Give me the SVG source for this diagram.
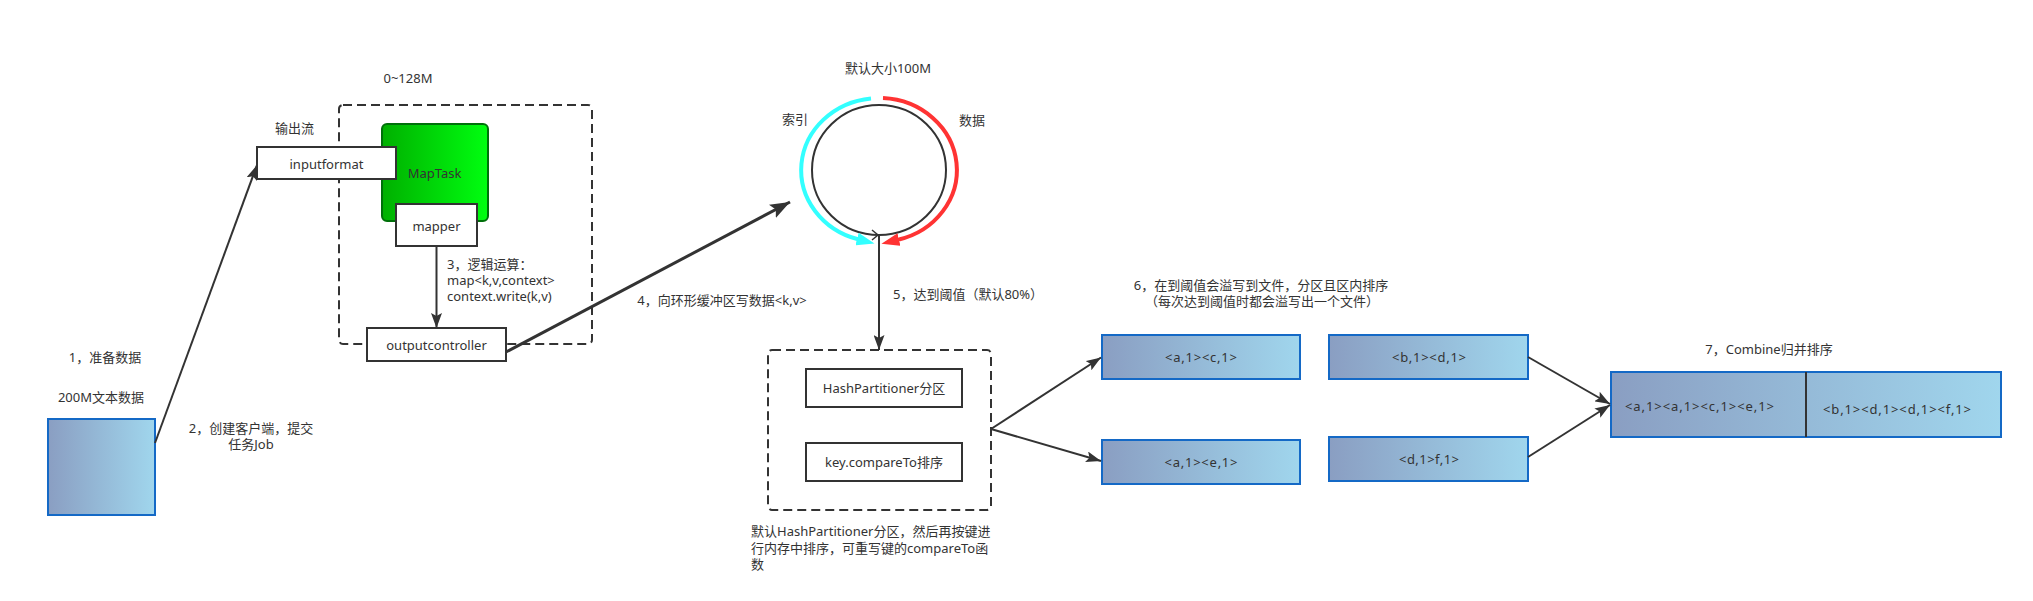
<svg xmlns="http://www.w3.org/2000/svg" width="2033" height="601" viewBox="0 0 2033 601">
<style>
text{font-family:"Noto Sans","Noto Sans CJK SC",sans-serif;font-size:13px;fill:#333;dominant-baseline:central}
.c{text-anchor:middle}
.box{fill:#fff;stroke:#333;stroke-width:2}
.dash{fill:none;stroke:#333;stroke-width:2;stroke-dasharray:9 5}
.blue{fill:url(#gb);stroke:#1469c6;stroke-width:2}
.ln{fill:none;stroke:#333;stroke-width:2}
</style>
<defs>
<linearGradient id="gb" x1="0" y1="0" x2="1" y2="0"><stop offset="0" stop-color="#8a9ec2"/><stop offset="1" stop-color="#a0d6ed"/></linearGradient>
<linearGradient id="gg" x1="0" y1="0" x2="1" y2="0"><stop offset="0" stop-color="#00b000"/><stop offset="1" stop-color="#00ff10"/></linearGradient>
<marker id="ar" markerWidth="16" markerHeight="11" refX="15" refY="5.5" orient="auto" markerUnits="userSpaceOnUse"><path d="M0,0 L15,5.5 L0,11 L3,5.5 z" fill="#333"/></marker>
<marker id="arb" markerWidth="21" markerHeight="15" refX="20" refY="7.5" orient="auto" markerUnits="userSpaceOnUse"><path d="M0,0 L20,7.5 L0,15 L4,7.5 z" fill="#333"/></marker>
<marker id="arc" markerWidth="19" markerHeight="13" refX="1" refY="6.5" orient="auto" markerUnits="userSpaceOnUse"><path d="M0,0 L18,6.5 L0,13 z" fill="#33ffff"/></marker>
<marker id="arr" markerWidth="19" markerHeight="13" refX="1" refY="6.5" orient="auto" markerUnits="userSpaceOnUse"><path d="M0,0 L18,6.5 L0,13 z" fill="#ff3333"/></marker>
</defs>
<rect width="2033" height="601" fill="#fff"/>

<g id="labels">
<text class="c" x="105" y="357">1，准备数据</text>
<text class="c" x="101" y="397">200M文本数据</text>
<text class="c" x="251" y="428">2，创建客户端，提交</text>
<text class="c" x="251" y="443.5">任务Job</text>
<text class="c" x="294.5" y="128">输出流</text>
<text class="c" x="408" y="78">0~128M</text>
<text x="447" y="264">3，逻辑运算：</text>
<text x="447" y="280">map&lt;k,v,context&gt;</text>
<text x="447" y="296">context.write(k,v)</text>
<text class="c" x="722" y="299.5">4，向环形缓冲区写数据&lt;k,v&gt;</text>
<text class="c" x="888" y="67.5">默认大小100M</text>
<text class="c" x="795" y="119">索引</text>
<text class="c" x="972" y="120">数据</text>
<text x="893" y="293.5">5，达到阈值（默认80%）</text>
<text x="751" y="531">默认HashPartitioner分区，然后再按键进</text>
<text x="751" y="547.5">行内存中排序，可重写键的compareTo函</text>
<text x="751" y="563.5">数</text>
<text class="c" x="1261" y="285">6，在到阈值会溢写到文件，分区且区内排序</text>
<text class="c" x="1262" y="301">（每次达到阈值时都会溢写出一个文件）</text>
<text class="c" x="1769" y="348.5">7，Combine归并排序</text>
</g>

<g id="data-file">
<rect class="blue" x="48" y="419" width="107" height="96"/>
</g>

<g id="map-container">
<rect class="dash" x="339" y="105" width="253" height="239" rx="4"/>
</g>

<g id="maptask">
<rect x="382" y="124" width="106" height="97" rx="5" fill="url(#gg)" stroke="#00700a" stroke-width="2"/>
<text class="c" x="434.5" y="173">MapTask</text>
</g>

<g id="inputformat">
<rect class="box" x="257" y="147" width="139" height="32"/>
<text class="c" x="326.5" y="163.5">inputformat</text>
</g>

<g id="mapper">
<rect class="box" x="396" y="204" width="81" height="42"/>
<text class="c" x="436.5" y="225.5">mapper</text>
</g>

<g id="outputcontroller">
<rect class="box" x="367" y="328" width="139" height="33"/>
<text class="c" x="436.5" y="345">outputcontroller</text>
</g>

<g id="ring-buffer">
<ellipse cx="879" cy="170" rx="67" ry="65" fill="none" stroke="#333" stroke-width="2"/>
<path d="M872,230 L878,235 L872,240" fill="none" stroke="#333" stroke-width="1.5"/>
<path d="M871,98.4 A78,72 0 0 0 858,239.3" fill="none" stroke="#33ffff" stroke-width="4" marker-end="url(#arc)"/>
<path d="M883,98.1 A78,72 0 0 1 898,239.8" fill="none" stroke="#ff3333" stroke-width="4" marker-end="url(#arr)"/>
</g>

<g id="spill-container">
<rect class="dash" x="768" y="350" width="223" height="160" rx="4"/>
</g>

<g id="hashpartitioner">
<rect class="box" x="806" y="369" width="156" height="38"/>
<text class="c" x="884" y="388">HashPartitioner分区</text>
</g>

<g id="compareto">
<rect class="box" x="806" y="443" width="156" height="38"/>
<text class="c" x="884" y="462">key.compareTo排序</text>
</g>

<g id="spill-a1">
<rect class="blue" x="1102" y="335" width="198" height="44"/>
<text class="c" x="1201" y="357" textLength="72" lengthAdjust="spacing">&lt;a,1&gt;&lt;c,1&gt;</text>
</g>

<g id="spill-a2">
<rect class="blue" x="1102" y="440" width="198" height="44"/>
<text class="c" x="1201" y="462" textLength="73" lengthAdjust="spacing">&lt;a,1&gt;&lt;e,1&gt;</text>
</g>

<g id="spill-b1">
<rect class="blue" x="1329" y="335" width="199" height="44"/>
<text class="c" x="1429" y="357" textLength="74" lengthAdjust="spacing">&lt;b,1&gt;&lt;d,1&gt;</text>
</g>

<g id="spill-b2">
<rect class="blue" x="1329" y="437" width="199" height="44"/>
<text class="c" x="1429" y="459" textLength="60" lengthAdjust="spacing">&lt;d,1&gt;f,1&gt;</text>
</g>

<g id="combine">
<rect class="blue" x="1611" y="372" width="390" height="65"/>
<line x1="1806" y1="372" x2="1806" y2="437" stroke="#333" stroke-width="2"/>
<text x="1625" y="406" textLength="149" lengthAdjust="spacing">&lt;a,1&gt;&lt;a,1&gt;&lt;c,1&gt;&lt;e,1&gt;</text>
<text x="1823" y="408.5" textLength="148" lengthAdjust="spacing">&lt;b,1&gt;&lt;d,1&gt;&lt;d,1&gt;&lt;f,1&gt;</text>
</g>

<g id="connectors">
<path class="ln" d="M155,443 L257,165" marker-end="url(#ar)"/>
<path class="ln" d="M436.5,246 L436.5,328" marker-end="url(#ar)"/>
<path d="M506,352 L790,202" fill="none" stroke="#333" stroke-width="3" marker-end="url(#arb)"/>
<path class="ln" d="M879,235 L879,350" marker-end="url(#ar)"/>
<path class="ln" d="M991,429 L1101,357.5" marker-end="url(#ar)"/>
<path class="ln" d="M991,429 L1101,461" marker-end="url(#ar)"/>
<path class="ln" d="M1528,357 L1610,404" marker-end="url(#ar)"/>
<path class="ln" d="M1528,457 L1610,405" marker-end="url(#ar)"/>
</g>
</svg>
